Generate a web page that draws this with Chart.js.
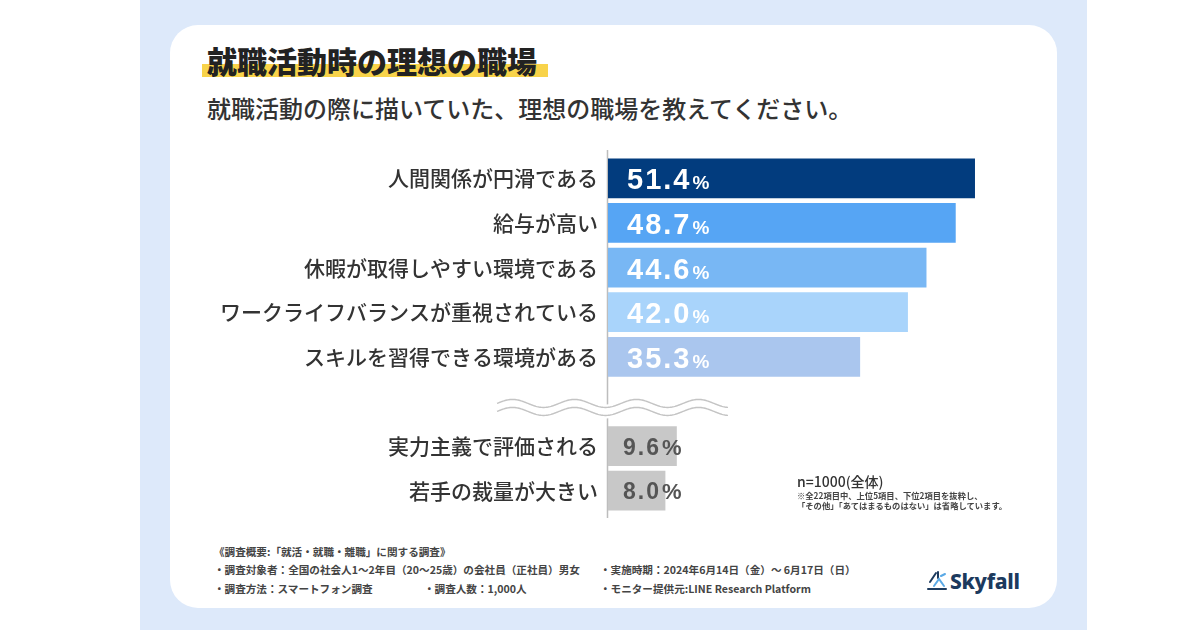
<!DOCTYPE html>
<html lang="ja">
<head>
<meta charset="utf-8">
<script src="https://cdn.jsdelivr.net/npm/chart.js@4.4.1/dist/chart.umd.min.js"></script>
<style>
  html, body { margin: 0; padding: 0; }
  body { width: 1200px; height: 630px; background: #fff; position: relative; overflow: hidden;
         font-family: "Noto Sans CJK JP", "Noto Sans", sans-serif; color: #333; }
  .abs { position: absolute; white-space: nowrap; }
  #panel { left: 140px; top: 0; width: 947px; height: 630px; background: #dde9fa; }
  #card { left: 170px; top: 25px; width: 887px; height: 583px; background: #fff; border-radius: 28px; }
  #marker { left: 202px; top: 64px; width: 346px; height: 13px; background: #f8d34a; }
  #title { left: 207px; top: 42px; line-height: 36px; font-size: 30px; font-weight: 900; color: #222; }
  #subtitle { left: 207px; top: 93px; line-height: 30px; font-size: 24px; font-weight: 500; color: #333; }
  #chartBox { left: 200px; top: 150px; width: 836px; height: 370px; }
  #n { left: 797px; top: 472px; line-height: 18px; font-size: 14px; font-weight: 500; color: #333; }
  .note { left: 797px; font-size: 8.3px; line-height: 10px; font-weight: 700; color: #444; }
  .foot { font-size: 10.6px; line-height: 16px; font-weight: 700; color: #444; }
  #logoText { left: 950px; top: 568px; font-family: "Noto Sans", sans-serif; font-size: 21px; line-height: 26px;
              font-weight: 800; color: #1c3a5e; letter-spacing: -0.3px; }
</style>
</head>
<body>
<div id="panel" class="abs"></div>
<div id="card" class="abs"></div>
<div id="marker" class="abs"></div>
<div id="title" class="abs">就職活動時の理想の職場</div>
<div id="subtitle" class="abs">就職活動の際に描いていた、理想の職場を教えてください。</div>
<div id="chartBox" class="abs"><canvas id="chart" width="836" height="370"></canvas></div>
<div id="n" class="abs">n=1000(全体)</div>
<div class="abs note" style="top:490px">※全22項目中、上位5項目、下位2項目を抜粋し、</div>
<div class="abs note" style="top:500px">「その他」「あてはまるものはない」は省略しています。</div>
<div class="abs foot" style="left:214px;top:544px">《調査概要:「就活・就職・離職」に関する調査》</div>
<div class="abs foot" style="left:214px;top:562px">・調査対象者：全国の社会人1～2年目（20～25歳）の会社員（正社員）男女</div>
<div class="abs foot" style="left:600px;top:562px">・実施時期：2024年6月14日（金）～ 6月17日（日）</div>
<div class="abs foot" style="left:214px;top:581px">・調査方法：スマートフォン調査</div>
<div class="abs foot" style="left:424px;top:581px">・調査人数：1,000人</div>
<div class="abs foot" style="left:600px;top:581px">・モニター提供元:LINE Research Platform</div>
<svg class="abs" style="left:926px;top:570px" width="22" height="22" viewBox="0 0 22 22">
  <g stroke="#1c3a5e" stroke-width="2" fill="none" stroke-linecap="round">
    <path d="M2 19 L20 19"/>
    <path d="M4 12 L10 3"/>
    <path d="M12 2 L12 8"/>
  </g>
  <g stroke="#5aa9e6" stroke-width="2" fill="none" stroke-linecap="round">
    <path d="M8 16 L13 9 L18 16"/>
    <path d="M15 6 L19 4"/>
  </g>
</svg>
<div id="logoText" class="abs">Skyfall</div>

<script>
// 上位5項目
const topLabels = ['人間関係が円滑である', '給与が高い', '休暇が取得しやすい環境である', 'ワークライフバランスが重視されている', 'スキルを習得できる環境がある'];
const topValues = [51.4, 48.7, 44.6, 42.0, 35.3];
const topColors = ['#023c7e', '#56a5f4', '#78b7f4', '#a9d4fb', '#aac6ee'];
// 下位2項目
const bottomLabels = ['実力主義で評価される', '若手の裁量が大きい'];
const bottomValues = [9.6, 8.0];
const bottomColors = ['#c8c8c8', '#c8c8c8'];

// blank row in between = the break
const labels = topLabels.concat([''], bottomLabels);
const values = topValues.concat([null], bottomValues);
const colors = topColors.concat(['rgba(0,0,0,0)'], bottomColors);
const gapIndex = topLabels.length;

const decoPlugin = {
  id: 'deco',
  beforeDatasetsDraw(chart) {
    const ctx = chart.ctx, area = chart.chartArea;
    const x0 = chart.scales.x.getPixelForValue(0) - 0.5;
    ctx.save();
    ctx.strokeStyle = '#bdbdbd';
    ctx.lineWidth = 1.5;
    ctx.beginPath();
    ctx.moveTo(x0, area.top - 8);
    ctx.lineTo(x0, area.bottom + 5);
    ctx.stroke();
    ctx.restore();
  },
  afterDatasetsDraw(chart) {
    const ctx = chart.ctx;
    const xs = chart.scales.x, ys = chart.scales.y;
    const x0 = xs.getPixelForValue(0);

    // wavy break
    const yc = ys.getPixelForValue(gapIndex) + 6;
    const left = x0 - 111, right = x0 + 120, amp = 4, per = 62;
    const wave = (x, off) => yc + off + amp * Math.sin((x - left) / per * Math.PI * 2 + Math.PI);
    ctx.save();
    ctx.fillStyle = '#fff';
    ctx.beginPath();
    for (let x = left; x <= right; x++) ctx.lineTo(x, wave(x, -7));
    for (let x = right; x >= left; x--) ctx.lineTo(x, wave(x, 7));
    ctx.closePath();
    ctx.fill();
    ctx.strokeStyle = '#c4c4c4';
    ctx.lineWidth = 1.4;
    [-4, 4].forEach(off => {
      ctx.beginPath();
      for (let x = left; x <= right; x++) ctx.lineTo(x, wave(x, off));
      ctx.stroke();
    });

    // value labels
    const meta = chart.getDatasetMeta(0);
    meta.data.forEach((bar, i) => {
      const v = values[i];
      if (v == null) return;
      const num = v.toFixed(1);
      const isTop = i < gapIndex;
      const numSize = isTop ? 29 : 23;
      const pctSize = isTop ? 19 : 22;
      let x = x0 + (isTop ? 19 : 15);
      const base = bar.y + (isTop ? 11 : 8.5);
      ctx.fillStyle = isTop ? '#ffffff' : '#555555';
      ctx.textAlign = 'left';
      ctx.textBaseline = 'alphabetic';
      ctx.letterSpacing = '2px';
      ctx.font = 'bold ' + numSize + 'px "Liberation Sans", Arial, sans-serif';
      ctx.fillText(num, x, base);
      x += ctx.measureText(num).width + 1;
      ctx.letterSpacing = '0px';
      ctx.font = 'bold ' + pctSize + 'px "Liberation Sans", Arial, sans-serif';
      ctx.fillText('%', x, base);
    });
    ctx.restore();
  }
};

new Chart(document.getElementById('chart').getContext('2d'), {
  type: 'bar',
  data: {
    labels: labels,
    datasets: [{
      data: values,
      backgroundColor: colors,
      borderWidth: 0,
      barThickness: 39
    }]
  },
  options: {
    indexAxis: 'y',
    responsive: false,
    animation: false,
    layout: { padding: { top: 6, bottom: 7, left: 0, right: 0 } },
    plugins: { legend: { display: false }, tooltip: { enabled: false } },
    scales: {
      x: { display: false, min: 0, max: 60 },
      y: {
        grid: { display: false, drawTicks: false },
        border: { display: false },
        ticks: {
          autoSkip: false,
          padding: 10,
          color: '#333',
          font: { family: '"Noto Sans CJK JP", sans-serif', size: 21, weight: 500 }
        },
        afterFit(scale) {
          scale.width = 408;
          scale.paddingTop = 0;
          scale.paddingBottom = 0;
        }
      }
    }
  },
  plugins: [decoPlugin]
});
</script>
</body>
</html>
